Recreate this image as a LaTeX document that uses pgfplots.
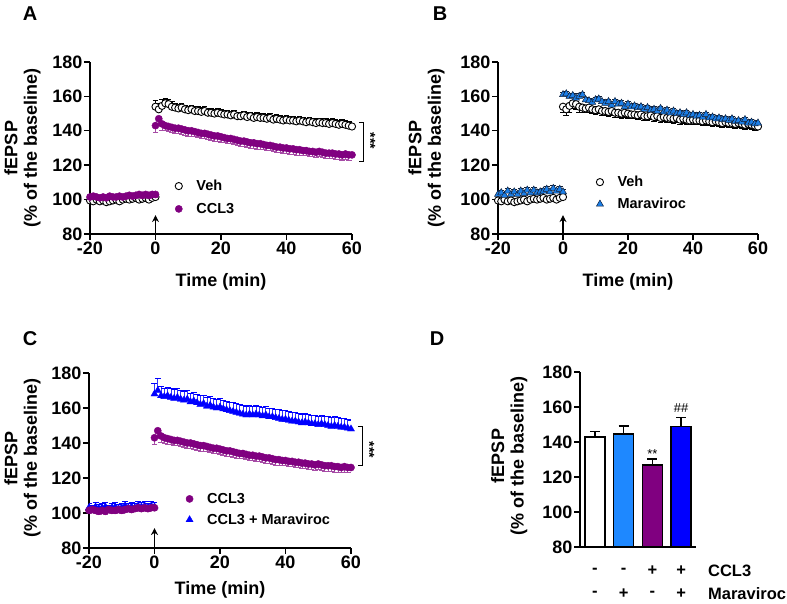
\documentclass[border=0pt]{standalone}
\usepackage{pgfplots}
\pgfplotsset{compat=1.18}
\usepackage{pgfplotstable}
\usepackage{fontspec}
\setmainfont{Liberation Sans}
\usetikzlibrary{arrows.meta}
\definecolor{cpurple}{HTML}{800080}
\definecolor{cdodger}{HTML}{1E88FF}
\definecolor{cmarafill}{HTML}{1C7FE8}
\definecolor{cblue}{HTML}{0000FF}
\definecolor{cedge}{HTML}{10203A}

\pgfplotstableread[row sep=\\]{
x y e\\
-20 99.5 1.2\\ -19 99 1.2\\ -18 100 1.2\\ -17 99 1.2\\ -16 99.5 1.2\\ -15 98.5 1.2\\ -14 99 1.2\\ -13 99.5 1.2\\ -12 100 1.2\\ -11 99 1.2\\
-10 100 1.2\\ -9 100.5 1.2\\ -8 100 1.2\\ -7 100.5 1.2\\ -6 101 1.2\\ -5 100 1.2\\ -4 100.5 1.2\\ -3 101 1.2\\ -2 100 1.2\\ -1 101 1.2\\ 0 101.5 1.2\\
0 154 3.5\\ 1 152.5 3.5\\ 2 154.5 3.5\\ 3 156 3\\ 4 155.5 3\\ 5 154 3\\ 6 153.5 2.5\\ 7 153 2.5\\ 8 153.5 2.5\\ 9 152.5 2.5\\
10 152 2.5\\ 11 152.5 2.5\\ 12 151.5 2.5\\ 13 151.5 2.5\\ 14 151 2.5\\ 15 151.5 2.5\\ 16 150.5 2.5\\ 17 150.5 2.5\\ 18 150 2.5\\ 19 150.5 2.5\\
20 150 2.5\\ 21 149.5 2.5\\ 22 149.5 2.5\\ 23 149 2.5\\ 24 149.5 2.5\\ 25 148.5 2.5\\ 26 148.5 2.5\\ 27 149 2.5\\ 28 148 2.5\\ 29 148.5 2.5\\
30 147.5 2.5\\ 31 148 2.5\\ 32 147.5 2.5\\ 33 147.5 2.5\\ 34 147 2.5\\ 35 147.5 2.5\\ 36 146.5 2.5\\ 37 147 2.5\\ 38 146.5 2.5\\ 39 146 2.5\\
40 146.5 2.5\\ 41 146 2.5\\ 42 146 2.5\\ 43 145.5 2.5\\ 44 146 2.5\\ 45 145.5 2.5\\ 46 145 2.5\\ 47 145.5 2.5\\ 48 145 2.5\\ 49 144.5 2.5\\
50 145 2.5\\ 51 144.5 2.5\\ 52 144.5 2.5\\ 53 144 2.5\\ 54 144.5 2.5\\ 55 144 2.5\\ 56 143.5 2.5\\ 57 144 2.5\\ 58 143.5 2.5\\ 59 143 2.5\\ 60 142.5 2.5\\
}\veh

\pgfplotstableread[row sep=\\]{
x y e\\
-20 101.5 1.5\\ -19 102 1.5\\ -18 101.5 1.5\\ -17 101 1.5\\ -16 101.5 1.5\\ -15 101 1.5\\ -14 102 1.5\\ -13 101.5 1.5\\ -12 101.5 1.5\\ -11 102 1.5\\
-10 101.5 1.5\\ -9 102 1.5\\ -8 102.5 1.5\\ -7 102 1.5\\ -6 102.5 1.5\\ -5 103 1.5\\ -4 102.5 1.5\\ -3 103 1.5\\ -2 102.5 1.5\\ -1 103 1.5\\ 0 103 1.5\\
0 143 4\\ 1 147 4\\ 2 144 3.5\\ 3 143 3\\ 4 142.5 3\\ 5 142 3\\ 6 141.5 3\\ 7 141.5 3\\ 8 141 3\\ 9 140.5 3\\
10 140 3\\ 11 140 3\\ 12 139.5 3\\ 13 139 3\\ 14 138.5 3\\ 15 138.5 3\\ 16 138 3\\ 17 137.5 3\\ 18 137 3\\ 19 137 3\\
20 136.5 3\\ 21 136 3\\ 22 135.5 3\\ 23 135.5 3\\ 24 135 3\\ 25 134.5 3\\ 26 134 3\\ 27 134 3\\ 28 133.5 3\\ 29 133 3\\
30 133 3\\ 31 132.5 3\\ 32 132.5 3\\ 33 132 3\\ 34 131.5 3\\ 35 131.5 3\\ 36 131 3\\ 37 130.5 3\\ 38 130.5 3\\ 39 130 3\\
40 130 3\\ 41 129.5 3\\ 42 129.5 3\\ 43 129 3\\ 44 129 3\\ 45 128.5 3\\ 46 128.5 3\\ 47 128 3\\ 48 128 3\\ 49 127.5 3\\
50 128 3\\ 51 127.5 3\\ 52 127 3\\ 53 127 3\\ 54 127 3\\ 55 126.5 3\\ 56 126.5 3\\ 57 126 3\\ 58 126.5 3\\ 59 126 3\\ 60 126 3\\
}\ccl

\pgfplotstableread[row sep=\\]{
x y e\\
-20 103 1.5\\ -19 104 1.5\\ -18 102.5 1.5\\ -17 105 1.5\\ -16 103 1.5\\ -15 104.5 1.5\\ -14 103 1.5\\ -13 105 1.5\\ -12 103.5 1.5\\ -11 105.5 1.5\\
-10 104 1.5\\ -9 105.5 1.5\\ -8 104 1.5\\ -7 104.5 1.5\\ -6 105 1.5\\ -5 106 1.5\\ -4 104.5 1.5\\ -3 106.5 1.5\\ -2 105 1.5\\ -1 106 1.5\\ 0 104.5 1.5\\
0 161 1.5\\ 1 161.5 1.5\\ 2 160 1.5\\ 3 160.5 1.5\\ 4 159 1.5\\ 5 160 1.5\\ 6 161 1.5\\ 7 158 1.5\\ 8 157.5 1.5\\ 9 156.5 1.5\\
10 158 1.5\\ 11 158.5 1.5\\ 12 157 1.5\\ 13 156 1.5\\ 14 157 1.5\\ 15 155 1.5\\ 16 157 1.5\\ 17 155.5 1.5\\ 18 156 1.5\\ 19 154 1.5\\
20 155.5 1.5\\ 21 154 1.5\\ 22 154.5 1.5\\ 23 153.5 1.5\\ 24 154 1.5\\ 25 152.5 1.5\\ 26 153.5 1.5\\ 27 152 1.5\\ 28 152.5 1.5\\ 29 151.5 1.5\\
30 153 1.5\\ 31 151 1.5\\ 32 152 1.5\\ 33 150.5 1.5\\ 34 151.5 1.5\\ 35 150 1.5\\ 36 150.5 1.5\\ 37 149.5 1.5\\ 38 150.5 1.5\\ 39 149 1.5\\
40 149.5 1.5\\ 41 148.5 1.5\\ 42 149 1.5\\ 43 148 1.5\\ 44 149.5 1.5\\ 45 147.5 1.5\\ 46 148 1.5\\ 47 147 1.5\\ 48 147.5 1.5\\ 49 146.5 1.5\\
50 147 1.5\\ 51 146 1.5\\ 52 147 1.5\\ 53 145.5 1.5\\ 54 146 1.5\\ 55 145 1.5\\ 56 146.5 1.5\\ 57 144.5 1.5\\ 58 145 1.5\\ 59 144 1.5\\ 60 144.5 1.5\\
}\mara

\pgfplotstableread[row sep=\\]{
x y e\\
-20 103 2.5\\ -19 102 2.5\\ -18 103.5 2.5\\ -17 102.5 2.5\\ -16 103 2.5\\ -15 103.5 2.5\\ -14 102 2.5\\ -13 103 2.5\\ -12 103.5 2.5\\ -11 102.5 2.5\\
-10 103 2.5\\ -9 104 2.5\\ -8 103 2.5\\ -7 103.5 2.5\\ -6 103 2.5\\ -5 104 2.5\\ -4 103.5 2.5\\ -3 104 2.5\\ -2 103 2.5\\ -1 104 2.5\\ 0 103.5 2.5\\
0 168 6\\ 1 170 7\\ 2 167 5.5\\ 3 166.5 5\\ 4 167 5\\ 5 166 5\\ 6 165.5 5\\ 7 166 5\\ 8 165 5\\ 9 164.5 5\\
10 165 5\\ 11 163.5 5\\ 12 164 5\\ 13 163 5\\ 14 162 5\\ 15 162.5 5\\ 16 161 5\\ 17 161.5 5\\ 18 160.5 5\\ 19 160 5\\
20 160.5 5\\ 21 159.5 5\\ 22 159 5\\ 23 158.5 5\\ 24 158 5\\ 25 157.5 5\\ 26 157 5\\ 27 156.5 5\\ 28 156 5\\ 29 156.5 5\\
30 156 5\\ 31 156.5 5\\ 32 156 5\\ 33 155.5 5\\ 34 156 5\\ 35 155 5\\ 36 155 5\\ 37 154.5 5\\ 38 154 5\\ 39 153.5 5\\
40 153.5 5\\ 41 153 5\\ 42 152.5 5\\ 43 152.5 5\\ 44 152 5\\ 45 151.5 5\\ 46 152 5\\ 47 151.5 5\\ 48 151 5\\ 49 151 5\\
50 150.5 5\\ 51 151 5\\ 52 150.5 5\\ 53 150 5\\ 54 149.5 5\\ 55 150 5\\ 56 149.5 5\\ 57 149 5\\ 58 149 5\\ 59 148.5 5\\ 60 148 5\\
}\cclmara

\pgfplotstableread[row sep=\\]{
x y e\\
0 142.9 3.2\\
}\barA
\pgfplotstableread[row sep=\\]{
x y e\\
1 144.6 4.6\\
}\barB
\pgfplotstableread[row sep=\\]{
x y e\\
2 126.9 3.4\\
}\barC
\pgfplotstableread[row sep=\\]{
x y e\\
3 148.7 5.3\\
}\barD

\pgfplotsset{
  panel/.style={
    scale only axis,
    axis lines*=left,
    axis line style={line width=1.4bp, -},
    every tick/.style={black, line width=1.4bp},
    tick align=outside,
    major tick length=6bp,
    ymin=80, ymax=180, ytick={80,100,...,180},
    tick label style={font=\fontsize{18bp}{18bp}\selectfont\bfseries, inner sep=1.5bp},
    /pgf/number format/assume math mode=true,
    clip mode=individual,
    label style={font=\fontsize{18bp}{19.5bp}\selectfont\bfseries},
    ylabel={fEPSP\\(\% of the baseline)},
    legend style={draw=none, fill=none, font=\fontsize{14.5bp}{14.5bp}\selectfont\bfseries,
      anchor=north west, column sep=13bp, row sep=7bp, nodes={inner sep=1bp}},
    legend cell align=left,
  },
  timeax/.style={
    xmin=-20, xmax=60, xtick={-20,0,...,60},
    xlabel={Time (min)},
  },
  vehs/.style={only marks, mark=*, mark size=3.6bp, black,
    mark options={fill=white, draw=black, line width=0.9bp},
    error bars/error bar style={line width=0.7bp, black},
    error bars/error mark options={rotate=90, mark size=2.8bp, line width=0.7bp, black}},
  ccls/.style={only marks, mark=*, mark size=3.6bp, cpurple,
    mark options={fill=cpurple, draw=cpurple},
    error bars/error bar style={line width=0.7bp, cpurple!70},
    error bars/error mark options={rotate=90, mark size=2.8bp, line width=0.7bp, cpurple!70}},
  maras/.style={only marks, mark=triangle*, mark size=4.1bp, cmarafill,
    mark options={fill=cmarafill, draw=cedge, line width=0.5bp},
    error bars/error bar style={line width=0.7bp, cedge},
    error bars/error mark options={rotate=90, mark size=2.8bp, line width=0.7bp, cedge}},
  cms/.style={only marks, mark=triangle*, mark size=4.1bp, cblue,
    mark options={fill=cblue, draw=cblue},
    error bars/error bar style={line width=0.7bp, cblue!80},
    error bars/error mark options={rotate=90, mark size=3bp, line width=0.7bp, cblue}},
  bars/.style={draw=black, line width=1.4bp,
    error bars/error bar style={line width=1.4bp, black},
    error bars/error mark options={rotate=90, mark size=5bp, line width=1.4bp, black}},
}

\begin{document}
\begin{tikzpicture}[x=1bp, y=1bp]
\useasboundingbox (0bp,0bp) rectangle (787bp,604bp);

\node[font=\fontsize{20bp}{20bp}\selectfont\bfseries] at (30bp,590bp) {A};
\node[font=\fontsize{20bp}{20bp}\selectfont\bfseries] at (440bp,590bp) {B};
\node[font=\fontsize{20bp}{20bp}\selectfont\bfseries] at (30bp,265bp) {C};
\node[font=\fontsize{20bp}{20bp}\selectfont\bfseries] at (437bp,265bp) {D};

% ---------- A ----------
\begin{axis}[panel, timeax, at={(90bp,370bp)}, anchor=south west, width=262bp, height=172bp,
  ylabel style={at={(axis description cs:-0.258,0.5)}, anchor=center, align=center},
  xlabel style={at={(axis description cs:0.5,-0.276)}, anchor=center},
  legend style={at={(axis description cs:0.313,0.332)}, row sep=9bp}]
\addplot[vehs, error bars/.cd, y dir=plus, y explicit] table[x=x, y=y, y error=e] {\veh};
\addlegendentry{Veh}
\addplot[ccls, error bars/.cd, y dir=minus, y explicit] table[x=x, y=y, y error=e] {\ccl};
\addlegendentry{CCL3}
\draw[-{Stealth[length=7bp, width=7bp]}, line width=1.2bp] (axis cs:0,80) -- (axis cs:0,91);
\draw[line width=0.9bp] (axis cs:62.1,145) -- (axis cs:63.4,145) -- (axis cs:63.4,122.4) -- (axis cs:62.1,122.4);
\node[rotate=-90, font=\fontsize{14bp}{14bp}\selectfont\bfseries] at (axis cs:65.6,134) {***};
\end{axis}

% ---------- B ----------
\begin{axis}[panel, timeax, at={(498bp,370bp)}, anchor=south west, width=260bp, height=172bp,
  ylabel style={at={(axis description cs:-0.275,0.5)}, anchor=center, align=center},
  xlabel style={at={(axis description cs:0.5,-0.276)}, anchor=center},
  legend style={at={(axis description cs:0.366,0.355)}, row sep=8bp}]
\addplot[vehs, error bars/.cd, y dir=minus, y explicit] table[x=x, y=y, y error=e] {\veh};
\addlegendentry{Veh}
\addplot[maras, error bars/.cd, y dir=plus, y explicit] table[x=x, y=y, y error=e] {\mara};
\addlegendentry{Maraviroc}
\draw[-{Stealth[length=7bp, width=7bp]}, line width=1.2bp] (axis cs:0,80) -- (axis cs:0,91);
\end{axis}

% ---------- C ----------
\begin{axis}[panel, timeax, at={(89bp,56bp)}, anchor=south west, width=262bp, height=175bp,
  ylabel style={at={(axis description cs:-0.254,0.514)}, anchor=center, align=center},
  xlabel style={at={(axis description cs:0.5,-0.24)}, anchor=center},
  legend style={at={(axis description cs:0.358,0.332)}, row sep=7bp}]
\addplot[cms, forget plot, error bars/.cd, y dir=plus, y explicit] table[x=x, y=y, y error=e] {\cclmara};
\addplot[ccls, error bars/.cd, y dir=minus, y explicit] table[x=x, y=y, y error=e] {\ccl};
\addlegendentry{CCL3}
\addlegendimage{cms}
\addlegendentry{CCL3 + Maraviroc}
\draw[-{Stealth[length=7bp, width=7bp]}, line width=1.2bp] (axis cs:0,80) -- (axis cs:0,91.4);
\draw[line width=0.9bp] (axis cs:62.1,149.3) -- (axis cs:63.4,149.3) -- (axis cs:63.4,127) -- (axis cs:62.1,127);
\node[rotate=-90, font=\fontsize{14bp}{14bp}\selectfont\bfseries] at (axis cs:65.6,136) {***};
\end{axis}

% ---------- D ----------
\begin{axis}[panel, at={(580bp,57bp)}, anchor=south west, width=116bp, height=175bp,
  xmin=-0.52, xmax=3.52, xtick=\empty,
  ylabel style={at={(axis description cs:-0.61,0.52)}, anchor=center, align=center},
  ybar, bar width=0.69, bar shift=0pt]
\addplot[bars, fill=white, error bars/.cd, y dir=plus, y explicit] table[x=x, y=y, y error=e] {\barA};
\addplot[bars, fill=cdodger, error bars/.cd, y dir=plus, y explicit] table[x=x, y=y, y error=e] {\barB};
\addplot[bars, fill=cpurple, error bars/.cd, y dir=plus, y explicit] table[x=x, y=y, y error=e] {\barC};
\addplot[bars, fill=cblue, error bars/.cd, y dir=plus, y explicit] table[x=x, y=y, y error=e] {\barD};
\node[font=\fontsize{13bp}{13bp}\selectfont] at (axis cs:2,133.3) {**};
\node[font=\fontsize{13bp}{13bp}\selectfont] at (axis cs:3,159.4) {\#\#};
\node[font=\fontsize{16.5bp}{16.5bp}\selectfont\bfseries] at (axis cs:0,66.6) {-};
\node[font=\fontsize{16.5bp}{16.5bp}\selectfont\bfseries] at (axis cs:1,66.6) {-};
\node[font=\fontsize{16.5bp}{16.5bp}\selectfont\bfseries] at (axis cs:2,66.6) {+};
\node[font=\fontsize{16.5bp}{16.5bp}\selectfont\bfseries] at (axis cs:3,66.6) {+};
\node[font=\fontsize{16.5bp}{16.5bp}\selectfont\bfseries] at (axis cs:0,53.5) {-};
\node[font=\fontsize{16.5bp}{16.5bp}\selectfont\bfseries] at (axis cs:1,53.5) {+};
\node[font=\fontsize{16.5bp}{16.5bp}\selectfont\bfseries] at (axis cs:2,53.5) {-};
\node[font=\fontsize{16.5bp}{16.5bp}\selectfont\bfseries] at (axis cs:3,53.5) {+};
\node[anchor=west, font=\fontsize{16.5bp}{16.5bp}\selectfont\bfseries] at (axis cs:3.82,66.6) {CCL3};
\node[anchor=west, font=\fontsize{16.5bp}{16.5bp}\selectfont\bfseries] at (axis cs:3.82,53.5) {Maraviroc};
\end{axis}
\end{tikzpicture}
\end{document}
